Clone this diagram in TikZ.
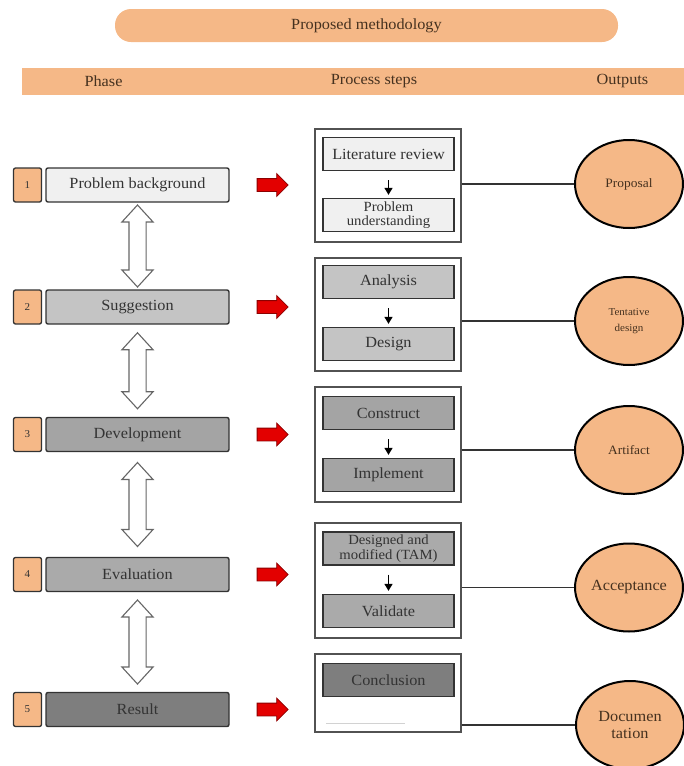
\documentclass[tikz,border=0pt]{standalone}
\usepackage{fontspec}
\setmainfont{Liberation Serif}[FakeStretch=1.05]
\usetikzlibrary{positioning,calc,shapes.geometric,shapes.arrows,arrows.meta}

\definecolor{peach}{HTML}{F5B887}
\definecolor{ink}{HTML}{333333}
\definecolor{brownink}{HTML}{45311F}
\definecolor{greyA}{HTML}{F0F0F0}
\definecolor{greyB}{HTML}{C4C4C4}
\definecolor{greyC}{HTML}{A4A4A4}
\definecolor{greyD}{HTML}{AAAAAA}
\definecolor{greyE}{HTML}{7E7E7E}
\definecolor{arrowred}{HTML}{E30000}

\newcommand{\bigtxt}{\fontsize{15.5}{13}\selectfont}
\newcommand{\midtxt}{\fontsize{12.8}{13}\selectfont}
\newcommand{\twotxt}{\fontsize{14}{14.5}\selectfont}

\tikzset{
  pill/.style={fill=peach, rounded corners=16pt, minimum width=503pt, minimum height=33pt, text=brownink, font=\bigtxt},
  numbox/.style={draw=ink, line width=1.3pt, fill=peach, rounded corners=2pt, minimum width=28pt, minimum height=34pt, inner sep=0, font=\fontsize{10.5}{10}\selectfont, text=ink},
  phasebox/.style={draw=ink, line width=1.4pt, rounded corners=2pt, minimum width=183pt, minimum height=34pt, inner sep=0, font=\bigtxt, text=ink},
  stepframe/.style={draw=ink!85, line width=1.2pt, fill=white, minimum width=146pt, inner sep=0},
  stepbox/.style={draw=ink, line width=1.3pt, minimum width=131pt, minimum height=33pt, inner sep=0, align=center, font=\bigtxt, text=ink},
  outbox/.style={ellipse, draw=black, line width=2pt, fill=peach, minimum width=108pt, minimum height=88pt, inner sep=0, align=center, text=brownink},
  redarr/.style={single arrow, draw=red!55!black, fill=arrowred, line width=0.8pt, minimum height=31pt, inner xsep=0, inner ysep=6pt, single arrow head extend=5pt},
  dblarr/.style={double arrow, draw=ink!75, fill=white, line width=1.1pt, inner xsep=0, inner ysep=8pt, double arrow head extend=7pt, double arrow tip angle=85, rotate=90},
  link/.style={draw=ink, line width=1.7pt},
  down/.style={-{Triangle[width=8pt,length=7pt]}, line width=1.4pt, shorten <=9pt, shorten >=3pt}
}

\begin{document}
\begin{tikzpicture}[x=1pt,y=-1pt]
  \useasboundingbox (0,0) rectangle (684,766);

  % heading
  \node[pill] (title) at (366.5,25.5) {Proposed methodology};
  \node[fill=peach, minimum width=662pt, minimum height=27pt, inner sep=0] (bar) at (353,81.5) {};
  \node[font=\bigtxt, text=brownink] (hphase) at (103.5,81.5) {Phase};
  \node[font=\bigtxt, text=brownink] (hsteps) at (374,81.5) {Process steps};
  \node[font=\bigtxt, text=brownink] (hout) at (622.5,81.5) {Outputs};

  % phases
  \foreach \i/\y/\c/\t in {1/185/greyA/Problem background, 2/307/greyB/Suggestion,
      3/434.5/greyC/Development, 4/574.5/greyD/Evaluation, 5/709.5/greyE/Result} {
    \node[numbox] (n\i) at (27.5,\y) {\i};
    \node[phasebox, fill=\c] (p\i) at (137.5,\y) {\t};
    \node[redarr, right=27pt of p\i] (r\i) {};
  }
  \foreach \a/\b/\len in {p1/p2/82, p2/p3/76, p3/p4/84, p4/p5/84}
    \node[dblarr, minimum height=\len pt] at ($(\a.south)!0.5!(\b.north)$) {};

  % process steps
  \node[stepframe, minimum height=113pt] (s1) at (388,185.5) {};
  \node[stepbox, fill=greyA] (s1a) at (388.5,154) {Literature review};
  \node[stepbox, fill=greyA, font=\twotxt] (s1b) at (388.5,215) {Problem\\understanding};
  \draw[down] (s1a) -- (s1b);

  \node[stepframe, minimum height=113pt] (s2) at (388,314.5) {};
  \node[stepbox, fill=greyB] (s2a) at (388.5,282) {Analysis};
  \node[stepbox, fill=greyB] (s2b) at (388.5,344) {Design};
  \draw[down] (s2a) -- (s2b);

  \node[stepframe, minimum height=115pt] (s3) at (388,444.5) {};
  \node[stepbox, fill=greyC] (s3a) at (388.5,413) {Construct};
  \node[stepbox, fill=greyC] (s3b) at (388.5,475) {Implement};
  \draw[down] (s3a) -- (s3b);

  \node[stepframe, minimum height=115pt] (s4) at (388,580.5) {};
  \node[stepbox, fill=greyD, font=\twotxt] (s4a) at (388.5,548.5) {Designed and\\modified (TAM)};
  \node[stepbox, fill=greyD] (s4b) at (388.5,611) {Validate};
  \draw[down] (s4a) -- (s4b);

  \node[stepframe, minimum height=78pt] (s5) at (388,693) {};
  \node[stepbox, fill=greyE] (s5a) at (388.5,680) {Conclusion};
  \draw[gray!35, line width=0.8pt] (326,723) -- (405,723);

  % outputs
  \node[outbox, font=\midtxt] (e1) at (629,184) {Proposal};
  \node[outbox, font=\fontsize{10.5}{16}\selectfont] (e2) at (629,321) {Tentative\\design};
  \node[outbox, font=\midtxt] (e3) at (629,450) {Artifact};
  \node[outbox, font=\bigtxt] (e4) at (629,587.5) {Acceptance};
  \node[outbox, font=\fontsize{15.5}{17}\selectfont] (e5) at (630,725) {Documen\\tation};

  \foreach \i in {1,...,5}
    \draw[link] (e\i.west -| s\i.east) -- (e\i.west);
\end{tikzpicture}
\end{document}
